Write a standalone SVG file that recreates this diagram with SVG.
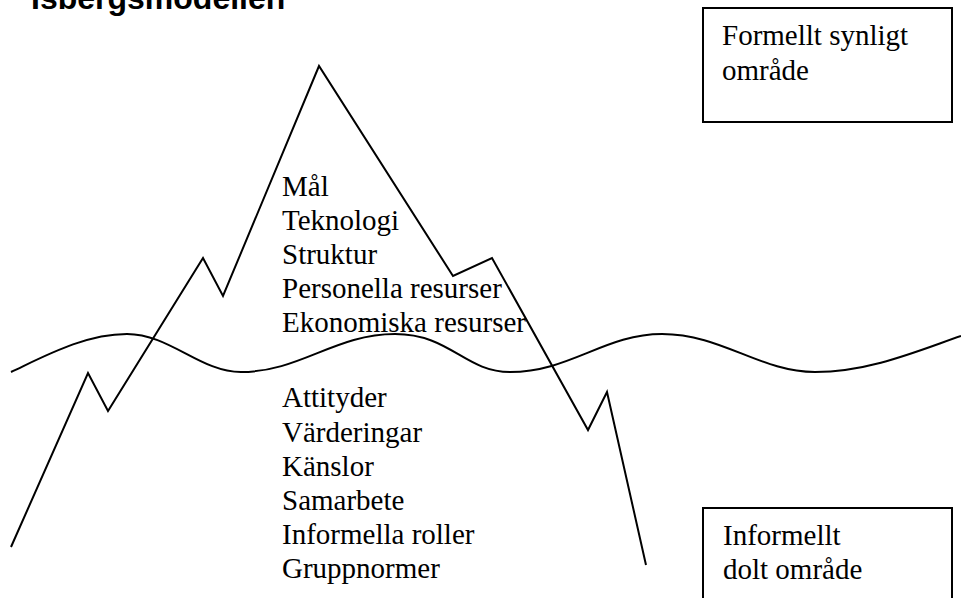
<svg xmlns="http://www.w3.org/2000/svg" width="961" height="598" viewBox="0 0 961 598">
  <style>
    .line { fill: none; stroke: #000; stroke-width: 2; stroke-linejoin: miter; }
    .box { fill: #fff; stroke: #000; stroke-width: 2; }
    .label { font-family: "Liberation Serif", "Times New Roman", serif; font-size: 29px; fill: #000; }
    .title { font-family: "Liberation Sans", Arial, sans-serif; font-size: 32px; font-weight: bold; fill: #000; }
  </style>
  <rect width="961" height="598" fill="#fff"/>

  <!-- heading, partly above the top edge -->
  <text class="title" x="31" y="9">Isbergsmodellen</text>

  <g id="connectors">
    <!-- iceberg outline -->
    <polyline id="iceberg" class="line" points="11,547 88,373 108,411 203,258 223,296 319,66 453,276 492,258 588,430 607,392 646,565"/>
    <!-- water surface -->
    <path id="waterline" class="line" d="M11,372 C45,356 85,334 127,334 C170,334 200,372 241,372 C300,372 335,334 395,334 C450,334 465,372 510,372 C570,372 605,334 662,334 C722,334 760,372 815,372 C870,372 920,350 961,336"/>
  </g>

  <g id="visible-factors">
    <text class="label" x="282" y="196">Mål</text>
    <text class="label" x="282" y="230">Teknologi</text>
    <text class="label" x="282" y="264">Struktur</text>
    <text class="label" x="282" y="298">Personella resurser</text>
    <text class="label" x="282" y="332">Ekonomiska resurser</text>
  </g>

  <g id="hidden-factors">
    <text class="label" x="282" y="407">Attityder</text>
    <text class="label" x="282" y="442">Värderingar</text>
    <text class="label" x="282" y="476">Känslor</text>
    <text class="label" x="282" y="510">Samarbete</text>
    <text class="label" x="282" y="544">Informella roller</text>
    <text class="label" x="282" y="578">Gruppnormer</text>
  </g>

  <g id="formal-box">
    <rect class="box" x="703" y="8" width="249" height="114"/>
    <text class="label" x="722" y="45">Formellt synligt</text>
    <text class="label" x="722" y="80">område</text>
  </g>

  <g id="informal-box">
    <rect class="box" x="703" y="508" width="249" height="110"/>
    <text class="label" x="723" y="545">Informellt</text>
    <text class="label" x="723" y="579">dolt område</text>
  </g>
</svg>
